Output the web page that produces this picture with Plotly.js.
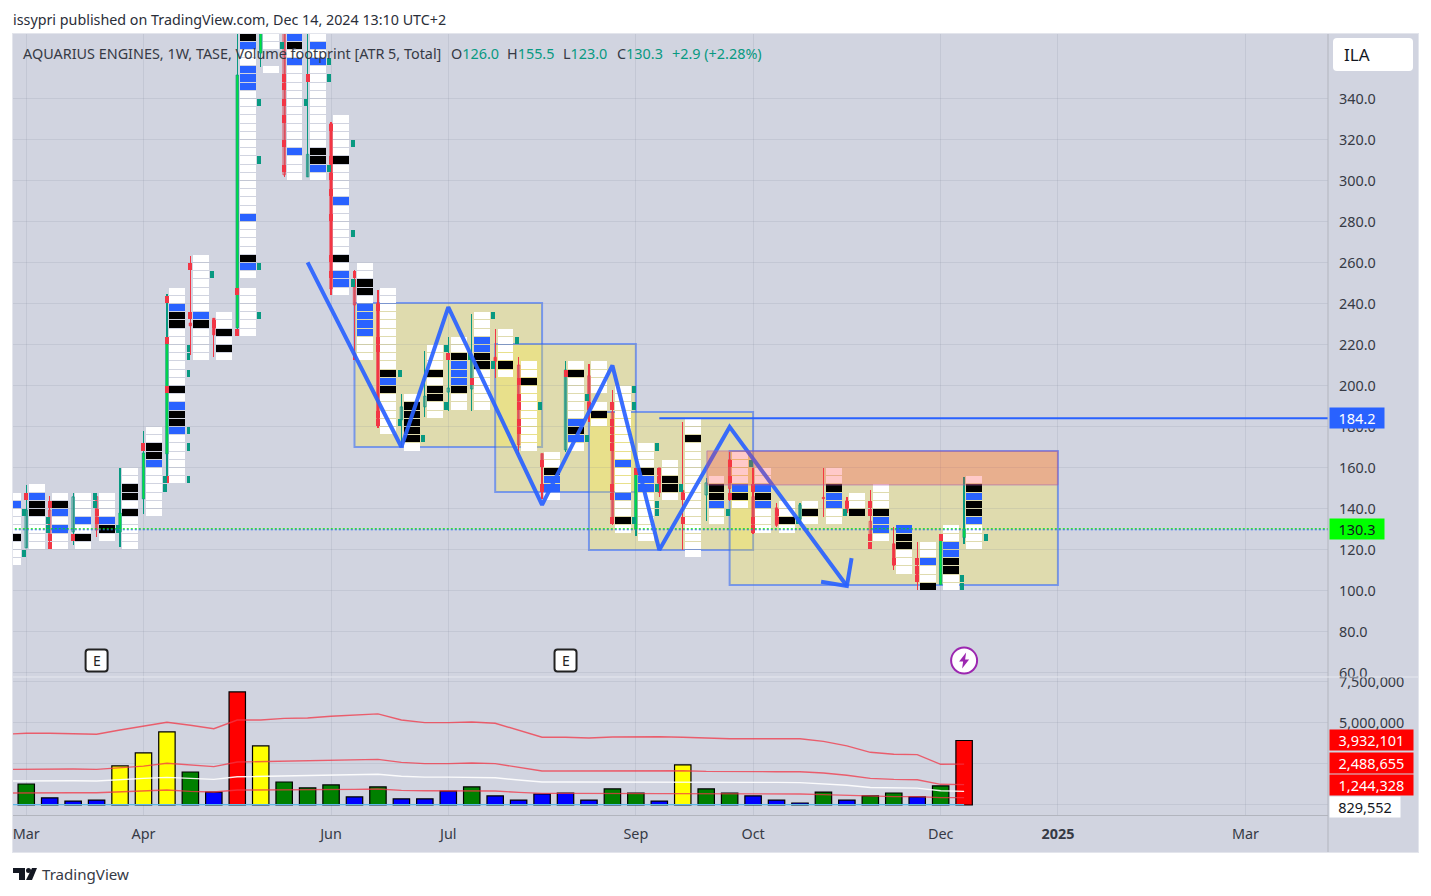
<!DOCTYPE html>
<html><head><meta charset="utf-8"><title>AQUARIUS ENGINES</title>
<script src="https://cdn.plot.ly/plotly-3.0.1.min.js"></script>
<style>html,body{margin:0;padding:0;background:#fff}#chart{width:1431px;height:896px}</style></head>
<body><div id="chart"></div>
<script>
// ---------- data ----------
const weeks=[-1,0,1,2,3,4,5,6,7,8,9,10,11,12,13,14,15,16,17,18,19,20,21,22,23,24,25,26,27,28,29,30,31,32,33,34,35,36,37,38,39,40];
const monthTicks=[0,5,13,18,26,31,39,44,52];
const monthLabels=['Mar','Apr','Jun','Jul','Sep','Oct','Dec','<b>2025</b>','Mar'];
const priceTicks=[60,80,100,120,140,160,180,200,220,240,260,280,300,320,340];
const volumeTicks=[0,2.5,5,7.5];
const volumeLabels=['','','5,000,000','7,500,000'];

const open =[128,121,139.5,128.8,146,128.8,144.9,166.8,230.7,233,228.3,362.4,388,302,328,248.3,240.5,183.4,189.8,197,198.5,214,210.2,167,168.8,205,187.3,130,160,149,146.8,164,146,140.5,135,145.5,144,134,123,112,103,126];
const high =[150,151.7,146.3,147.8,146,160,178,244.9,263.4,233.2,385,392,395,388,329,256.6,246.8,196,217,224,235,228,214,167,212,210.7,198,159,160,182.4,155,168,160,143,142.9,160,146,149,131,124,125,155.5];
const low  =[112,121,124,122.4,126.3,121.5,137.6,155.6,215.1,214.1,224.9,355.6,302,302,244.4,214.1,179.5,170,185,188,188,204,167,145,168,182.4,132,127,146,120,134,144,128,131,132.7,136,138,124.9,110,100.5,103,123];
const close=[140,139.5,125,145.9,129.7,138,167.3,220.5,229.3,224.9,351.7,385,303,313,247.3,239.5,181,189.8,195,199,212.7,212,171.2,160.5,207.8,186.8,133.2,159,148,146,152.7,150,129,132,142,145,139,125,112.5,104.5,125,130.3];
const candleStyle='hhhhhfffffffhhfhfhhhhfhhhhhfffhhhfhffhffff';

const cellTop=[148,152,148,148,148,160,180,248,264,236,372,372,372,372,332,260,248,196,220,224,236,228,212,168,212,212,200,172,164,184,156,168,160,144,144,160,148,152,132,124,132,156];
const cellRows=['wbwwwkwww','wbkkwwww','wkbwbww','wwwbwkw','wwwbkw','wwkkwkwwww','wwkkbwwwwww','wwbkkwwwwwwwkwbkkbwwwwww','wwwwwwwbkwwww','wwkwkw',
'kbwwbbbwwwwwwwwwwwwwwwbwwwwkbwxwwwwww','wwxxw','bkwbwwwwwwwwwwbwww','wbwbwwwwwwwwwwkkbw','wwwwwkwwwwbwwwwwwkwbbw','wwkkwbbbbwww','wwwwwwwwwwkbkwwwww','wkkkkkw','wwwkwkkww','wwkbbbkww',
'wwwbbkkwwwww','wwwwkw','wwkwwwwwwww','wwkbbw','wkwwwwwbkbw','wwwwxwkw','wwwwwwwwwbwwwbwwkw','wwwkbbwwwwww','wwkkw','wwkwwwwwwwwwwwwww',
'wkkbww','wwwwbkw','wwbkbwww','wwkw','wkw','wwkbbww','wwk','wwwkbbw','bkkwww','wwbwwk','wwbbkkww','wkbkkbwww'];
const redDelta=[[],[148],[144,128,124],[128],[140,136],[],[172],[244,224,200,156],[260,236],[232],[248,228],[],[352,348,340,332,320,308],[352],[328,312,304,296,284,264,256],[256,252,216],[240,224,220,188,184],[],[],[216],[204],[],[204,196,192,184,180],[164,152],[208],[192],[192,184,180,176,172,152,148,136],[160],[160,156],[148,136],[],[164,156,148],[152,136,132],[140,136],[],[],[144],[144,140,128,124],[116],[116,112,108],[128],[]];
const greenDelta=[[140,120],[136,132],[],[148,144],[132],[],[156,152],[220,216,208,180,172,156],[256],[],[340,312,260,236],[368],[340],[360,352,308],[320,276,252],[],[208,184],[176],[220,192],[216],[236,212],[224],[192],[],[196,176],[],[200,192,136],[172,152,144,140],[152],[],[140],[164],[],[136],[],[140],[],[],[],[],[108,104],[128]];

const volume=[0.9,1.28,0.43,0.24,0.30,2.38,3.17,4.45,2.01,0.79,6.89,3.60,1.40,1.04,1.22,0.49,1.10,0.37,0.37,0.85,1.10,0.55,0.30,0.67,0.73,0.30,0.98,0.73,0.24,2.44,0.98,0.73,0.55,0.30,0.12,0.79,0.30,0.55,0.73,0.49,1.16,3.93];
const volumeKind='ggbbbyyygbryggg'+'bgbbbgbbbbbggbyggbbbgbggbgr';
const volumeColours={g:'#008000',b:'#0000ff',y:'#ffff00',r:'#ff0000'};
const bandTop=[4.31,4.37,4.37,4.35,4.31,4.57,4.82,5.04,4.86,4.65,5.18,5.18,5.28,5.30,5.41,5.47,5.55,5.18,5.02,5.02,5.06,4.98,4.57,4.13,4.13,4.08,4.14,4.16,4.16,4.13,4.08,4.04,4.04,4.04,4.04,3.88,3.60,3.21,3.09,3.07,2.48,2.49];
const bandMid=[2.17,2.19,2.21,2.19,2.17,2.27,2.37,2.54,2.44,2.34,2.62,2.64,2.66,2.68,2.72,2.74,2.78,2.60,2.52,2.52,2.56,2.52,2.30,2.07,2.07,2.07,2.09,2.11,2.11,2.09,2.05,2.03,2.03,2.03,2.03,1.95,1.81,1.62,1.56,1.54,1.26,1.24];
const bandAvg=[1.46,1.48,1.50,1.48,1.46,1.56,1.62,1.68,1.62,1.56,1.72,1.75,1.77,1.79,1.83,1.85,1.87,1.75,1.70,1.70,1.70,1.66,1.52,1.40,1.40,1.40,1.42,1.42,1.42,1.42,1.40,1.38,1.38,1.38,1.36,1.28,1.20,1.07,1.05,1.03,0.87,0.83];
const bandLow=[0.73,0.75,0.75,0.75,0.75,0.81,0.85,0.91,0.83,0.79,0.91,0.91,0.93,0.93,0.95,0.95,0.97,0.89,0.87,0.87,0.87,0.85,0.77,0.71,0.71,0.71,0.71,0.71,0.71,0.71,0.69,0.67,0.67,0.67,0.67,0.63,0.59,0.53,0.51,0.51,0.45,0.45];
const bandBase=0.02;

// drawings: [week0, week1, priceLow, priceHigh]
const boxes=[[14,22,170.2,240.5],[20,26,148.3,220.5],[24,31,120,187.3],[30,44,102.9,168.3]];
const zoneRed=[29.03,44,151.7,168.3];
const zigzagX=[12,16,18,22,25,27,30,35];
const zigzagY=[260.3,170.2,238.5,142,210,120,180,102.4];
const arrowX=[33.9,35,35.2];
const arrowY=[104.5,102.4,116];
const levelX=[27,55.6];
const levelPrice=184.2;
const lastPrice=130.3;
const earningsWeeks=[3,23];
const dividendWeek=40;
const markerPrice=66.0;

// ---------- build ----------
const FONT='"Noto Sans", sans-serif';
const TXT='#363a45', TEAL='#089981', RED='#f23645', BLUE='#2962ff', BG='#d1d4e0';
const L=13,R=1328,T=34,B=815;
const fx=p=>(p-L)/(R-L), fy=p=>(B-p)/(B-T);
const rowH=4, gap=0.45;

function cells(code,colour){
  const x=[],base=[],y=[];
  weeks.forEach((w,i)=>{[...cellRows[i]].forEach((c,r)=>{ if(c===code){x.push(w+0.44);base.push(cellTop[i]-rowH*(r+1)+gap);y.push(rowH-gap);} });});
  return {type:'bar',x,y,base,width:0.68,marker:{color:colour,line:{width:0}},xaxis:'x',yaxis:'y',hoverinfo:'skip'};
}
function deltas(list,offset,colour){
  const x=[],base=[],y=[];
  weeks.forEach((w,i)=>list[i].forEach(t=>{x.push(w+offset);base.push(t-rowH+gap);y.push(rowH-gap);}));
  return {type:'bar',x,y,base,width:0.17,marker:{color:colour,line:{width:0}},xaxis:'x',yaxis:'y',hoverinfo:'skip'};
}
const isUp=i=>close[i]>=open[i];
const wicks={type:'bar',x:weeks,base:low,y:high.map((h,i)=>h-low[i]),width:0.055,
  marker:{color:weeks.map((_,i)=>isUp(i)?TEAL:RED),line:{width:0}},xaxis:'x',yaxis:'y',hoverinfo:'skip'};
const bodies={type:'bar',x:weeks,base:open.map((o,i)=>Math.min(o,close[i])),y:open.map((o,i)=>Math.max(Math.abs(o-close[i]),0.6)),width:0.1,
  marker:{color:weeks.map((_,i)=>candleStyle[i]==='h'?'rgba(150,150,160,0.35)':(isUp(i)?'#00e63c':RED)),
          line:{width:0.8,color:weeks.map((_,i)=>isUp(i)?TEAL:RED)}},xaxis:'x',yaxis:'y',hoverinfo:'skip'};

const volBars={type:'bar',x:weeks,y:volume,width:0.7,marker:{color:[...volumeKind].map(k=>volumeColours[k]),line:{color:'#000',width:1.2}},xaxis:'x',yaxis:'y2',hoverinfo:'skip'};
const band=(y,c,w)=>({type:'scatter',mode:'lines',x:weeks,y,line:{color:c,width:w},xaxis:'x',yaxis:'y2',hoverinfo:'skip'});

const traces=[
  cells('w','#ffffff'),cells('b',BLUE),cells('k','#000000'),
  wicks,bodies,
  deltas(redDelta,0,RED),deltas(greenDelta,0.92,TEAL),
  band(bandTop,'rgba(242,54,69,0.75)',1.4),band(bandMid,'rgba(242,54,69,0.75)',1.4),band(bandAvg,'rgba(255,255,255,0.9)',1.4),band(bandLow,'rgba(242,54,69,0.75)',1.4),
  {type:'scatter',mode:'lines',x:weeks,y:weeks.map(()=>bandBase),line:{color:'#5bb8e8',width:1.2},xaxis:'x',yaxis:'y2',hoverinfo:'skip'},
  volBars,
  {type:'scatter',mode:'lines',x:[-1,55.6],y:[lastPrice-0.45,lastPrice-0.45],line:{color:BLUE,width:1.1,dash:'2px,2px'},xaxis:'x',yaxis:'y',hoverinfo:'skip'},
  {type:'scatter',mode:'lines',x:[-1,55.6],y:[lastPrice,lastPrice],line:{color:'#00e600',width:1.1,dash:'2px,2px'},xaxis:'x',yaxis:'y',hoverinfo:'skip'},
  {type:'scatter',mode:'lines',x:levelX,y:[levelPrice,levelPrice],line:{color:BLUE,width:2},xaxis:'x',yaxis:'y',hoverinfo:'skip'},
  {type:'scatter',mode:'lines',x:zigzagX,y:zigzagY,line:{color:'rgba(41,98,255,0.92)',width:4,simplify:false},xaxis:'x',yaxis:'y',hoverinfo:'skip'},
  {type:'scatter',mode:'lines',x:arrowX,y:arrowY,line:{color:'rgba(41,98,255,0.92)',width:4,simplify:false},xaxis:'x',yaxis:'y',hoverinfo:'skip'}
];

function rr(x0,y0,x1,y1,r){const X=fx,Y=fy;
  const p=(a,b)=>X(a)+','+Y(b);
  return 'M'+p(x0+r,y0)+' L'+p(x1-r,y0)+' Q'+p(x1,y0)+' '+p(x1,y0+r)+' L'+p(x1,y1-r)+' Q'+p(x1,y1)+' '+p(x1-r,y1)+' L'+p(x0+r,y1)+' Q'+p(x0,y1)+' '+p(x0,y1-r)+' L'+p(x0,y0+r)+' Q'+p(x0,y0)+' '+p(x0+r,y0)+' Z';
}
const paperRect=(x0,y0,x1,y1,fill,layer)=>({type:'rect',xref:'paper',yref:'paper',x0:fx(x0),x1:fx(x1),y0:fy(y0),y1:fy(y1),fillcolor:fill,line:{width:0},layer:layer||'below'});
const paperPath=(path,fill,layer)=>({type:'path',xref:'paper',yref:'paper',path,fillcolor:fill,line:{width:0},layer:layer||'above'});
const poly=pts=>'M'+pts.map(p=>fx(p[0])+','+fy(p[1])).join(' L')+' Z';
const badgePath='M-8,-11 L8,-11 Q11,-11 11,-8 L11,8 Q11,11 8,11 L-8,11 Q-11,11 -11,8 L-11,-8 Q-11,-11 -8,-11 Z';

const shapes=[
  paperRect(12,33,1419,853,'#e3e5ec'),
  paperRect(13,34,1418,852,BG),
  ...boxes.map(b=>({type:'rect',xref:'x',yref:'y',x0:b[0],x1:b[1],y0:b[2],y1:b[3],fillcolor:'rgba(255,235,59,0.3)',line:{color:'rgba(41,98,255,0.55)',width:2},layer:'below'})),
  {type:'rect',xref:'x',yref:'y',x0:zoneRed[0],x1:zoneRed[1],y0:zoneRed[2],y1:zoneRed[3],fillcolor:'rgba(255,60,60,0.28)',line:{color:'rgba(160,100,180,0.6)',width:1},layer:'above'},
  {type:'line',xref:'paper',yref:'paper',x0:fx(R),x1:fx(R),y0:fy(34),y1:fy(852),line:{color:'#b2b5be',width:1},layer:'above'},
  {type:'line',xref:'paper',yref:'paper',x0:fx(13),x1:fx(1418),y0:fy(677),y1:fy(677),line:{color:'#e6e8ef',width:1},layer:'above'},
  paperPath(rr(1333,38,1413,71,4),'#ffffff'),
  ...earningsWeeks.map(w=>({type:'path',xref:'x',yref:'y',xsizemode:'pixel',ysizemode:'pixel',xanchor:w,yanchor:markerPrice,path:badgePath,fillcolor:'#fff',line:{color:'#222',width:2},layer:'above'})),
  {type:'circle',xref:'x',yref:'y',xsizemode:'pixel',ysizemode:'pixel',xanchor:dividendWeek,yanchor:markerPrice,x0:-13,x1:13,y0:-13,y1:13,fillcolor:'#fff',line:{color:'#9c27b0',width:2},layer:'above'},
  {type:'path',xref:'x',yref:'y',xsizemode:'pixel',ysizemode:'pixel',xanchor:dividendWeek,yanchor:markerPrice,path:'M2,8 L-5,-1 L-1,-1 L-2,-8 L5,1 L1,1 Z',fillcolor:'#9c27b0',line:{width:0},layer:'above'},
  paperPath(poly([[13,868],[25,868],[25,880],[19,880],[19,873],[13,873]]),'#131722'),
  {type:'circle',xref:'paper',yref:'paper',x0:fx(26),x1:fx(31),y0:fy(873),y1:fy(868),fillcolor:'#131722',line:{width:0},layer:'above'},
  paperPath(poly([[32,868],[37,868],[32,880],[26,880]]),'#131722')
];

const note=(x,y,text,size,colour,extra)=>Object.assign({xref:'paper',yref:'paper',x:fx(x-2),y:fy(y),xanchor:'left',yanchor:'middle',text,showarrow:false,font:{family:FONT,size,color:colour}},extra||{});
const tag=(val,yref,text,w,fill,colour,yshift)=>({xref:'paper',yref,x:1,y:val,xanchor:'left',yanchor:'middle',yshift:yshift||0,xshift:1,text,showarrow:false,width:w,height:20,align:'center',valign:'middle',bgcolor:fill,borderpad:0,font:{family:FONT,size:14.5,color:colour}});

const annotations=[
  note(13,19.5,'issypri published on TradingView.com, Dec 14, 2024 13:10 UTC+2',14.3,'#2a2e39'),
  note(23,53.5,'AQUARIUS ENGINES, 1W, TASE, Volume footprint [ATR 5, Total]',14.4,TXT),
  note(451,53.5,'O<span style="color:'+TEAL+'">126.0</span>',14.4,TXT),
  note(507,53.5,'H<span style="color:'+TEAL+'">155.5</span>',14.4,TXT),
  note(563,53.5,'L<span style="color:'+TEAL+'">123.0</span>',14.4,TXT),
  note(617,53.5,'C<span style="color:'+TEAL+'">130.3</span>',14.4,TXT),
  note(672,53.5,'+2.9 (+2.28%)',14.4,TEAL),
  note(1344,54,'ILA',17,'#131722'),
  note(42,874,'TradingView',15.1,'#363a45'),
  ...earningsWeeks.map(w=>({xref:'x',yref:'y',x:w,y:markerPrice,text:'E',showarrow:false,font:{family:FONT,size:14,color:'#222'}})),
  tag(levelPrice,'y','184.2',54,BLUE,'#fff'),
  tag(lastPrice,'y','130.3',54,'#00ff00','#131722'),
  tag(3.932101,'y2','3,932,101',83,'#ff0000','#fff'),
  tag(2.488655,'y2','2,488,655',83,'#ff0000','#fff',1),
  tag(1.244328,'y2','1,244,328',83,'#ff0000','#fff',-0.5),
  tag(0.829552,'y2','829,552',70,'#ffffff','#131722',-16)
];

const tickFont={family:FONT,size:14.4,color:TXT};
const gridColor='rgba(120,125,145,0.15)';
const layout={
  width:1431,height:896,paper_bgcolor:'#ffffff',plot_bgcolor:'rgba(0,0,0,0)',
  margin:{l:L,r:1431-R,t:T,b:896-B,pad:0},showlegend:false,barmode:'overlay',bargap:0,hovermode:false,dragmode:false,
  xaxis:{domain:[0,1],range:[-0.565,55.52],tickmode:'array',tickvals:monthTicks,ticktext:monthLabels,tickfont:tickFont,ticks:'',ticklabelstandoff:6,
         showgrid:true,gridcolor:gridColor,gridwidth:1,zeroline:false,showline:true,linecolor:'#b2b5be',linewidth:1,anchor:'y2'},
  yaxis:{domain:[(B-677)/(B-T),1],range:[58,371.7],side:'right',anchor:'x',tickmode:'array',tickvals:priceTicks,ticktext:priceTicks.map(v=>v.toFixed(1)),
         tickfont:tickFont,ticks:'',ticklabelstandoff:10,showgrid:true,gridcolor:gridColor,gridwidth:1,zeroline:false,showline:false},
  yaxis2:{domain:[0,(B-677)/(B-T)],range:[-0.61,7.8],side:'right',anchor:'x',tickmode:'array',tickvals:volumeTicks,ticktext:volumeLabels,
         tickfont:tickFont,ticks:'',ticklabelstandoff:10,showgrid:true,gridcolor:gridColor,gridwidth:1,zeroline:false,showline:false},
  shapes,annotations
};
Plotly.newPlot('chart',traces,layout,{displayModeBar:false,staticPlot:true,responsive:false});
</script></body></html>
